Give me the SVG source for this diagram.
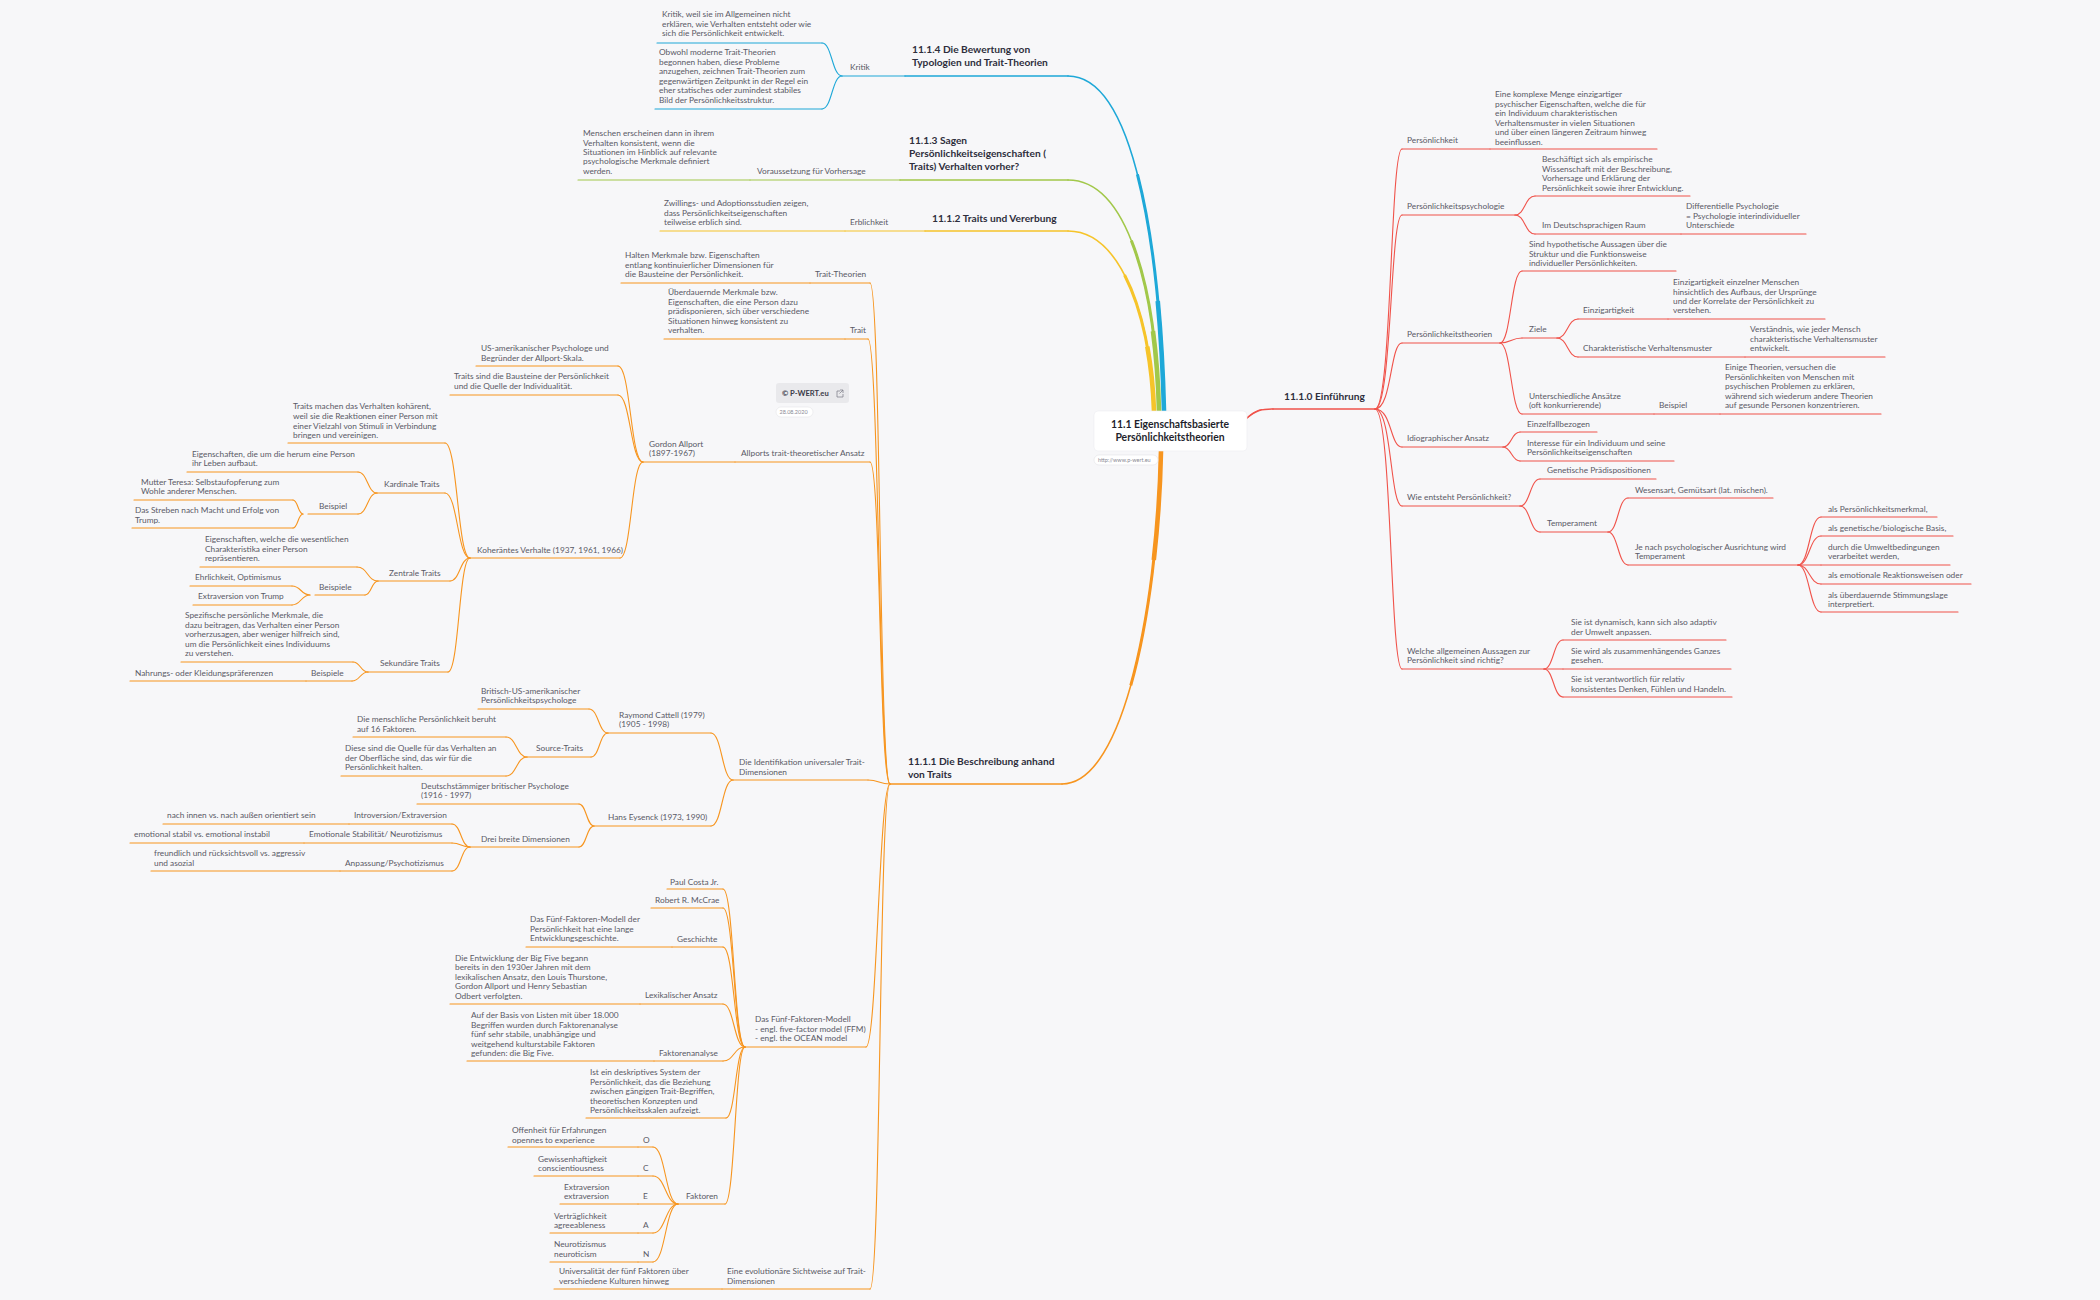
<svg xmlns="http://www.w3.org/2000/svg" width="2100" height="1300" viewBox="0 0 2100 1300">
<style>
.t{font-family:Lato,"Open Sans",sans-serif;font-size:8.3px;fill:#5a5a66}
.h{font-family:Lato,"Open Sans",sans-serif;font-size:10.2px;font-weight:700;fill:#2e2e3c}
.rt{font-family:Lato,"Open Sans",sans-serif;font-size:10.4px;font-weight:700;fill:#1f1f2c}
.s{font-family:Lato,"Open Sans",sans-serif;font-size:5.5px;fill:#8a8a95}
.r,.o,.b,.g,.y{fill:none;stroke-width:1.1;stroke-linecap:round}
.r{stroke:#f0534b}.o{stroke:#f7951f}.b{stroke:#1ea8d8}.g{stroke:#a2c84a}.y{stroke:#f6c42a}
.m1{stroke-width:1.6}
.m2{stroke-width:3;stroke-linecap:butt;stroke-dasharray:0 35 65 0}
.m3{stroke-width:4.6;stroke-linecap:butt;stroke-dasharray:0 70 30 0}
</style>
<rect width="2100" height="1300" fill="#f7f7f9"/>

<g id="connectors">
  <path class="b m1" d="M1068 76C1135 76 1160 250 1164 411"/>
  <path class="b m2" pathLength="100" d="M1068 76C1135 76 1160 250 1164 411"/>
  <path class="b m3" pathLength="100" d="M1068 76C1135 76 1160 250 1164 411"/>
  <path class="g m1" d="M1068 180C1128 180 1156 290 1159 411"/>
  <path class="g m2" pathLength="100" d="M1068 180C1128 180 1156 290 1159 411"/>
  <path class="g m3" pathLength="100" d="M1068 180C1128 180 1156 290 1159 411"/>
  <path class="y m1" d="M1068 231C1122 231 1151 320 1154 411"/>
  <path class="y m2" pathLength="100" d="M1068 231C1122 231 1151 320 1154 411"/>
  <path class="y m3" pathLength="100" d="M1068 231C1122 231 1151 320 1154 411"/>
  <path class="o m1" d="M1062 784C1125 784 1158 600 1161 451"/>
  <path class="o m2" pathLength="100" d="M1062 784C1125 784 1158 600 1161 451"/>
  <path class="o m3" pathLength="100" d="M1062 784C1125 784 1158 600 1161 451"/>
  <path class="r m1" d="M1247 418C1256 410 1262 409 1273 409"/>
  <path class="r" stroke-width="3.4" d="M1247 418C1254 412 1258 410 1262 409.5"/>

  <!-- Einführung -->
  <path class="r" d="M1375 409C1392 409 1390 149 1402 149"/>
  <path class="r" d="M1375 409C1392 409 1390 215 1402 215"/>
  <path class="r" d="M1375 409C1392 409 1390 343 1402 343"/>
  <path class="r" d="M1375 409C1392 409 1390 447 1402 447"/>
  <path class="r" d="M1375 409C1392 409 1390 506 1402 506"/>
  <path class="r" d="M1375 409C1392 409 1390 669 1402 669"/>
  <path class="r" d="M1515 215C1525 215 1525 196 1535 196"/>
  <path class="r" d="M1515 215C1525 215 1525 234 1535 234"/>
  <path class="r" d="M1500 343C1511 343 1511 271 1522 271"/>
  <path class="r" d="M1500 343C1511 343 1511 338 1522 338"/>
  <path class="r" d="M1500 343C1511 343 1511 414 1522 414"/>
  <path class="r" d="M1557 338C1567.5 338 1567.5 319 1578 319"/>
  <path class="r" d="M1557 338C1567.5 338 1567.5 357 1578 357"/>
  <path class="r" d="M1503 447C1511.5 447 1511.5 432 1520 432"/>
  <path class="r" d="M1503 447C1511.5 447 1511.5 461 1520 461"/>
  <path class="r" d="M1520 506C1530 506 1530 479 1540 479"/>
  <path class="r" d="M1520 506C1530 506 1530 532 1540 532"/>
  <path class="r" d="M1608 532C1618 532 1618 498 1628 498"/>
  <path class="r" d="M1608 532C1618 532 1618 565 1628 565"/>
  <path class="r" d="M1798 565C1809.5 565 1809.5 517 1821 517"/>
  <path class="r" d="M1798 565C1809.5 565 1809.5 536 1821 536"/>
  <path class="r" d="M1798 565H1821"/>
  <path class="r" d="M1798 565C1809.5 565 1809.5 584 1821 584"/>
  <path class="r" d="M1798 565C1809.5 565 1809.5 612 1821 612"/>
  <path class="r" d="M1544 669C1553.5 669 1553.5 640 1563 640"/>
  <path class="r" d="M1544 669H1563"/>
  <path class="r" d="M1544 669C1553.5 669 1553.5 697 1563 697"/>

  <!-- 11.1.4 Kritik -->
  <path class="b" d="M842 76C832 76 832 43 822 43"/>
  <path class="b" d="M842 76C832 76 832 109 822 109"/>

  <!-- 11.1.1 -->
  <path class="o" d="M890 784C879 784 881 283 870 283"/>
  <path class="o" d="M890 784C879 784 879 339 868 339"/>
  <path class="o" d="M890 784C879 784 881 462 870 462"/>
  <path class="o" d="M890 784C879 784 879 780 868 780"/>
  <path class="o" d="M890 784C879 784 877 1047 866 1047"/>
  <path class="o" d="M890 784C879 784 881 1289 870 1289"/>
  <!-- Gordon -->
  <path class="o" d="M643 462C630.5 462 630.5 366 618 366"/>
  <path class="o" d="M643 462C630.5 462 630.5 395 618 395"/>
  <path class="o" d="M643 462C631.5 462 631.5 558 620 558"/>
  <!-- Koheräntes -->
  <path class="o" d="M470 558C457.5 558 457.5 443 445 443"/>
  <path class="o" d="M470 558C457.5 558 457.5 493 445 493"/>
  <path class="o" d="M470 558C460 558 460 581 450 581"/>
  <path class="o" d="M470 558C459 558 459 672 448 672"/>
  <path class="o" d="M377 493C367.5 493 367.5 472 358 472"/>
  <path class="o" d="M377 493C367.5 493 367.5 514 358 514"/>
  <path class="o" d="M303 514C298 514 298 500 293 500"/>
  <path class="o" d="M303 514C298 514 298 528 293 528"/>
  <path class="o" d="M378 581C367.5 581 367.5 567 357 567"/>
  <path class="o" d="M378 581C371.5 581 371.5 595 365 595"/>
  <path class="o" d="M310 595C301 595 301 586 292 586"/>
  <path class="o" d="M310 595C301 595 301 605 292 605"/>
  <path class="o" d="M368 672C360.5 672 360.5 662 353 662"/>
  <path class="o" d="M368 672C360 672 360 681 352 681"/>
  <!-- Identifikation -->
  <path class="o" d="M733 780C722 780 722 733 711 733"/>
  <path class="o" d="M733 780C722 780 722 826 711 826"/>
  <path class="o" d="M608 733C598.5 733 598.5 709 589 709"/>
  <path class="o" d="M608 733C599.5 733 599.5 757 591 757"/>
  <path class="o" d="M527 757C516.5 757 516.5 737 506 737"/>
  <path class="o" d="M527 757C516.5 757 516.5 776 506 776"/>
  <path class="o" d="M594 826C586.5 826 586.5 804 579 804"/>
  <path class="o" d="M594 826C586.5 826 586.5 847 579 847"/>
  <path class="o" d="M470 847C461 847 461 824 452 824"/>
  <path class="o" d="M470 847C461 847 461 843 452 843"/>
  <path class="o" d="M470 847C461 847 461 871 452 871"/>
  <!-- Five factor -->
  <path class="o" d="M745 1047C734 1047 734 889 723 889"/>
  <path class="o" d="M745 1047C734 1047 734 908 723 908"/>
  <path class="o" d="M745 1047C734 1047 734 947 723 947"/>
  <path class="o" d="M745 1047C734 1047 734 1004 723 1004"/>
  <path class="o" d="M745 1047C734 1047 734 1061 723 1061"/>
  <path class="o" d="M745 1047C735.5 1047 735.5 1118 726 1118"/>
  <path class="o" d="M745 1047C735 1047 735 1204 725 1204"/>
  <path class="o" d="M678 1204C665.5 1204 665.5 1147 653 1147"/>
  <path class="o" d="M678 1204C665.5 1204 665.5 1176 653 1176"/>
  <path class="o" d="M678 1204C665.5 1204 665.5 1233 653 1233"/>
  <path class="o" d="M678 1204C665.5 1204 665.5 1262 653 1262"/>
</g>

<g id="root">
  <rect x="1094" y="411" width="153" height="40" rx="4" fill="#ffffff" stroke="#ececf0" stroke-width="0.6"/>
  <text class="rt" text-anchor="middle"><tspan x="1170" y="428">11.1 Eigenschaftsbasierte</tspan><tspan x="1170" y="441">Persönlichkeitstheorien</tspan></text>
</g>
<g id="url">
  <rect x="1094" y="455" width="64" height="10" rx="5" fill="#ffffff" stroke="#e2e2e6" stroke-width="0.6"/>
  <text class="s" x="1098" y="462">http://www.p-wert.eu</text>
</g>
<g id="badge">
  <rect x="776" y="383" width="73" height="20" rx="3" fill="#e9e9ec"/>
  <text x="782" y="396" style="font-family:Lato,'Open Sans',sans-serif;font-size:7.6px;font-weight:700;fill:#3a3a48">© P-WERT.eu</text>
  <path d="M840 391h-3v6h6v-3M840 390h3v3M843 390l-3.5 3.5" fill="none" stroke="#7a7a85" stroke-width="0.7"/>
  <rect x="776" y="407" width="37" height="10" rx="5" fill="#ffffff" stroke="#e4e4e8" stroke-width="0.6"/>
  <text class="s" x="779.5" y="414">28.08.2020</text>
</g>

<!-- RIGHT: Einführung -->
<g id="n-einfuehrung"><text class="h" x="1284" y="400">11.1.0 Einführung</text><path class="r m1" d="M1273 409H1375"/></g>
<g id="n-persoenlichkeit"><text class="t" x="1407" y="143">Persönlichkeit</text><path class="r" d="M1402 149H1490"/></g>
<g id="n-persoenlichkeit-def"><text class="t"><tspan x="1495" y="97">Eine komplexe Menge einzigartiger</tspan><tspan x="1495" y="106.5">psychischer Eigenschaften, welche die für</tspan><tspan x="1495" y="116">ein Individuum charakteristischen</tspan><tspan x="1495" y="125.5">Verhaltensmuster in vielen Situationen</tspan><tspan x="1495" y="135">und über einen längeren Zeitraum hinweg</tspan><tspan x="1495" y="144.5">beeinflussen.</tspan></text><path class="r" d="M1490 149H1657"/></g>
<g id="n-psychologie"><text class="t" x="1407" y="209">Persönlichkeitspsychologie</text><path class="r" d="M1402 215H1515"/></g>
<g id="n-psychologie-def"><text class="t"><tspan x="1542" y="162">Beschäftigt sich als empirische</tspan><tspan x="1542" y="171.5">Wissenschaft mit der Beschreibung,</tspan><tspan x="1542" y="181">Vorhersage und Erklärung der</tspan><tspan x="1542" y="190.5">Persönlichkeit sowie ihrer Entwicklung.</tspan></text><path class="r" d="M1535 196H1690"/></g>
<g id="n-deutsch"><text class="t" x="1542" y="228">Im Deutschsprachigen Raum</text><path class="r" d="M1535 234H1681"/></g>
<g id="n-differentielle"><text class="t"><tspan x="1686" y="209">Differentielle Psychologie</tspan><tspan x="1686" y="218.5">= Psychologie interindividueller</tspan><tspan x="1686" y="228">Unterschiede</tspan></text><path class="r" d="M1681 234H1806"/></g>
<g id="n-theorien"><text class="t" x="1407" y="337">Persönlichkeitstheorien</text><path class="r" d="M1402 343H1500"/></g>
<g id="n-theorien-def"><text class="t"><tspan x="1529" y="247">Sind hypothetische Aussagen über die</tspan><tspan x="1529" y="256.5">Struktur und die Funktionsweise</tspan><tspan x="1529" y="266">individueller Persönlichkeiten.</tspan></text><path class="r" d="M1522 271H1676"/></g>
<g id="n-ziele"><text class="t" x="1529" y="332">Ziele</text><path class="r" d="M1522 338H1557"/></g>
<g id="n-einzigartigkeit"><text class="t" x="1583" y="313">Einzigartigkeit</text><path class="r" d="M1578 319H1668"/></g>
<g id="n-einzigartigkeit-def"><text class="t"><tspan x="1673" y="285">Einzigartigkeit einzelner Menschen</tspan><tspan x="1673" y="294.5">hinsichtlich des Aufbaus, der Ursprünge</tspan><tspan x="1673" y="304">und der Korrelate der Persönlichkeit zu</tspan><tspan x="1673" y="313">verstehen.</tspan></text><path class="r" d="M1668 319H1825"/></g>
<g id="n-charakteristische"><text class="t" x="1583" y="351">Charakteristische Verhaltensmuster</text><path class="r" d="M1578 357H1745"/></g>
<g id="n-charakteristische-def"><text class="t"><tspan x="1750" y="332">Verständnis, wie jeder Mensch</tspan><tspan x="1750" y="341.5">charakteristische Verhaltensmuster</tspan><tspan x="1750" y="351">entwickelt.</tspan></text><path class="r" d="M1745 357H1885"/></g>
<g id="n-ansaetze"><text class="t"><tspan x="1529" y="399">Unterschiedliche Ansätze</tspan><tspan x="1529" y="408">(oft konkurrierende)</tspan></text><path class="r" d="M1522 414H1654"/></g>
<g id="n-ansaetze-beispiel"><text class="t" x="1659" y="408">Beispiel</text><path class="r" d="M1654 414H1720"/></g>
<g id="n-ansaetze-def"><text class="t"><tspan x="1725" y="370">Einige Theorien, versuchen die</tspan><tspan x="1725" y="379.5">Persönlichkeiten von Menschen mit</tspan><tspan x="1725" y="389">psychischen Problemen zu erklären,</tspan><tspan x="1725" y="398.5">während sich wiederum andere Theorien</tspan><tspan x="1725" y="408">auf gesunde Personen konzentrieren.</tspan></text><path class="r" d="M1720 414H1881"/></g>
<g id="n-idiographisch"><text class="t" x="1407" y="441">Idiographischer Ansatz</text><path class="r" d="M1402 447H1503"/></g>
<g id="n-einzelfall"><text class="t" x="1527" y="427">Einzelfallbezogen</text><path class="r" d="M1520 432H1597"/></g>
<g id="n-interesse"><text class="t"><tspan x="1527" y="446">Interesse für ein Individuum und seine</tspan><tspan x="1527" y="455">Persönlichkeitseigenschaften</tspan></text><path class="r" d="M1520 461H1674"/></g>
<g id="n-entsteht"><text class="t" x="1407" y="500">Wie entsteht Persönlichkeit?</text><path class="r" d="M1402 506H1520"/></g>
<g id="n-genetisch"><text class="t" x="1547" y="473">Genetische Prädispositionen</text><path class="r" d="M1540 479H1656"/></g>
<g id="n-temperament"><text class="t" x="1547" y="526">Temperament</text><path class="r" d="M1540 532H1608"/></g>
<g id="n-wesensart"><text class="t" x="1635" y="493">Wesensart, Gemütsart (lat. mischen).</text><path class="r" d="M1628 498H1773"/></g>
<g id="n-jenach"><text class="t"><tspan x="1635" y="550">Je nach psychologischer Ausrichtung wird</tspan><tspan x="1635" y="559">Temperament</tspan></text><path class="r" d="M1628 565H1798"/></g>
<g id="n-t1"><text class="t" x="1828" y="512">als Persönlichkeitsmerkmal,</text><path class="r" d="M1821 517H1937"/></g>
<g id="n-t2"><text class="t" x="1828" y="531">als genetische/biologische Basis,</text><path class="r" d="M1821 536H1953"/></g>
<g id="n-t3"><text class="t"><tspan x="1828" y="550">durch die Umweltbedingungen</tspan><tspan x="1828" y="559">verarbeitet werden,</tspan></text><path class="r" d="M1821 565H1950"/></g>
<g id="n-t4"><text class="t" x="1828" y="578">als emotionale Reaktionsweisen oder</text><path class="r" d="M1821 584H1971"/></g>
<g id="n-t5"><text class="t"><tspan x="1828" y="598">als überdauernde Stimmungslage</tspan><tspan x="1828" y="607">interpretiert.</tspan></text><path class="r" d="M1821 612H1958"/></g>
<g id="n-aussagen"><text class="t"><tspan x="1407" y="654">Welche allgemeinen Aussagen zur</tspan><tspan x="1407" y="663">Persönlichkeit sind richtig?</tspan></text><path class="r" d="M1402 669H1544"/></g>
<g id="n-a1"><text class="t"><tspan x="1571" y="625">Sie ist dynamisch, kann sich also adaptiv</tspan><tspan x="1571" y="635">der Umwelt anpassen.</tspan></text><path class="r" d="M1563 640H1726"/></g>
<g id="n-a2"><text class="t"><tspan x="1571" y="654">Sie wird als zusammenhängendes Ganzes</tspan><tspan x="1571" y="663">gesehen.</tspan></text><path class="r" d="M1563 669H1731"/></g>
<g id="n-a3"><text class="t"><tspan x="1571" y="682">Sie ist verantwortlich für relativ</tspan><tspan x="1571" y="692">konsistentes Denken, Fühlen und Handeln.</tspan></text><path class="r" d="M1563 697H1732"/></g>

<!-- LEFT: 11.1.4 -->
<g id="n-1114"><text class="h"><tspan x="912" y="53">11.1.4 Die Bewertung von</tspan><tspan x="912" y="66">Typologien und Trait-Theorien</tspan></text><path class="b m1" d="M905 76H1068"/></g>
<g id="n-kritik"><text class="t" x="850" y="70">Kritik</text><path class="b" d="M842 76H905"/></g>
<g id="n-kritik1"><text class="t"><tspan x="662" y="17">Kritik, weil sie im Allgemeinen nicht</tspan><tspan x="662" y="26.5">erklären, wie Verhalten entsteht oder wie</tspan><tspan x="662" y="36">sich die Persönlichkeit entwickelt.</tspan></text><path class="b" d="M657 43H822"/></g>
<g id="n-kritik2"><text class="t"><tspan x="659" y="55">Obwohl moderne Trait-Theorien</tspan><tspan x="659" y="64.7">begonnen haben, diese Probleme</tspan><tspan x="659" y="74">anzugehen, zeichnen Trait-Theorien zum</tspan><tspan x="659" y="83.7">gegenwärtigen Zeitpunkt in der Regel ein</tspan><tspan x="659" y="93.3">eher statisches oder zumindest stabiles</tspan><tspan x="659" y="102.7">Bild der Persönlichkeitsstruktur.</tspan></text><path class="b" d="M655 109H822"/></g>

<!-- 11.1.3 -->
<g id="n-1113"><text class="h"><tspan x="909" y="144">11.1.3 Sagen</tspan><tspan x="909" y="157">Persönlichkeitseigenschaften (</tspan><tspan x="909" y="170">Traits) Verhalten vorher?</tspan></text><path class="g m1" d="M900 180H1068"/></g>
<g id="n-voraussetzung"><text class="t" x="757" y="174">Voraussetzung für Vorhersage</text><path class="g" d="M750 180H900"/></g>
<g id="n-voraussetzung-def"><text class="t"><tspan x="583" y="136">Menschen erscheinen dann in ihrem</tspan><tspan x="583" y="145.7">Verhalten konsistent, wenn die</tspan><tspan x="583" y="155">Situationen im Hinblick auf relevante</tspan><tspan x="583" y="164.3">psychologische Merkmale definiert</tspan><tspan x="583" y="174">werden.</tspan></text><path class="g" d="M578 180H750"/></g>

<!-- 11.1.2 -->
<g id="n-1112"><text class="h" x="932" y="222">11.1.2 Traits und Vererbung</text><path class="y m1" d="M925 231H1068"/></g>
<g id="n-erblichkeit"><text class="t" x="850" y="225">Erblichkeit</text><path class="y" d="M845 231H925"/></g>
<g id="n-erblichkeit-def"><text class="t"><tspan x="664" y="206">Zwillings- und Adoptionsstudien zeigen,</tspan><tspan x="664" y="215.7">dass Persönlichkeitseigenschaften</tspan><tspan x="664" y="225">teilweise erblich sind.</tspan></text><path class="y" d="M660 231H845"/></g>

<!-- 11.1.1 -->
<g id="n-1111"><text class="h"><tspan x="908" y="765">11.1.1 Die Beschreibung anhand</tspan><tspan x="908" y="778">von Traits</tspan></text><path class="o m1" d="M890 784H1062"/></g>
<g id="n-traittheorien"><text class="t" x="815" y="277">Trait-Theorien</text><path class="o" d="M810 283H870"/></g>
<g id="n-traittheorien-def"><text class="t"><tspan x="625" y="258">Halten Merkmale bzw. Eigenschaften</tspan><tspan x="625" y="267.5">entlang kontinuierlicher Dimensionen für</tspan><tspan x="625" y="277">die Bausteine der Persönlichkeit.</tspan></text><path class="o" d="M621 283H810"/></g>
<g id="n-trait"><text class="t" x="850" y="333">Trait</text><path class="o" d="M845 339H868"/></g>
<g id="n-trait-def"><text class="t"><tspan x="668" y="295">Überdauernde Merkmale bzw.</tspan><tspan x="668" y="304.5">Eigenschaften, die eine Person dazu</tspan><tspan x="668" y="314">prädisponieren, sich über verschiedene</tspan><tspan x="668" y="323.5">Situationen hinweg konsistent zu</tspan><tspan x="668" y="333">verhalten.</tspan></text><path class="o" d="M664 339H845"/></g>
<g id="n-allports"><text class="t" x="741" y="456">Allports trait-theoretischer Ansatz</text><path class="o" d="M735 462H870"/></g>
<g id="n-gordon"><text class="t"><tspan x="649" y="447">Gordon Allport</tspan><tspan x="649" y="456">(1897-1967)</tspan></text><path class="o" d="M643 462H735"/></g>
<g id="n-gordon1"><text class="t"><tspan x="481" y="351">US-amerikanischer Psychologe und</tspan><tspan x="481" y="361">Begründer der Allport-Skala.</tspan></text><path class="o" d="M476 366H618"/></g>
<g id="n-gordon2"><text class="t"><tspan x="454" y="379">Traits sind die Bausteine der Persönlichkeit</tspan><tspan x="454" y="389">und die Quelle der Individualität.</tspan></text><path class="o" d="M450 395H618"/></g>
<g id="n-koheraent"><text class="t" x="477" y="553">Koheräntes Verhalte (1937, 1961, 1966)</text><path class="o" d="M470 558H620"/></g>
<g id="n-kohaerent-def"><text class="t"><tspan x="293" y="409">Traits machen das Verhalten kohärent,</tspan><tspan x="293" y="419">weil sie die Reaktionen einer Person mit</tspan><tspan x="293" y="428.7">einer Vielzahl von Stimuli in Verbindung</tspan><tspan x="293" y="438">bringen und vereinigen.</tspan></text><path class="o" d="M288 443H445"/></g>
<g id="n-kardinal"><text class="t" x="384" y="487">Kardinale Traits</text><path class="o" d="M377 493H445"/></g>
<g id="n-kardinal-def"><text class="t"><tspan x="192" y="457">Eigenschaften, die um die herum eine Person</tspan><tspan x="192" y="466">ihr Leben aufbaut.</tspan></text><path class="o" d="M187 472H358"/></g>
<g id="n-kardinal-bsp"><text class="t" x="319" y="509">Beispiel</text><path class="o" d="M308 514H358"/></g>
<g id="n-teresa"><text class="t"><tspan x="141" y="485">Mutter Teresa: Selbstaufopferung zum</tspan><tspan x="141" y="494">Wohle anderer Menschen.</tspan></text><path class="o" d="M134 500H293"/></g>
<g id="n-trump1"><text class="t"><tspan x="135" y="513">Das Streben nach Macht und Erfolg von</tspan><tspan x="135" y="523">Trump.</tspan></text><path class="o" d="M132 528H293"/></g>
<g id="n-zentral"><text class="t" x="389" y="576">Zentrale Traits</text><path class="o" d="M378 581H450"/></g>
<g id="n-zentral-def"><text class="t"><tspan x="205" y="542">Eigenschaften, welche die wesentlichen</tspan><tspan x="205" y="552">Charakteristika einer Person</tspan><tspan x="205" y="561">repräsentieren.</tspan></text><path class="o" d="M200 567H357"/></g>
<g id="n-zentral-bsp"><text class="t" x="319" y="590">Beispiele</text><path class="o" d="M315 595H365"/></g>
<g id="n-ehrlich"><text class="t" x="195" y="580">Ehrlichkeit, Optimismus</text><path class="o" d="M190 586H292"/></g>
<g id="n-trump2"><text class="t" x="198" y="599">Extraversion von Trump</text><path class="o" d="M193 605H292"/></g>
<g id="n-sekundaer"><text class="t" x="380" y="666">Sekundäre Traits</text><path class="o" d="M368 672H448"/></g>
<g id="n-sekundaer-def"><text class="t"><tspan x="185" y="618">Spezifische persönliche Merkmale, die</tspan><tspan x="185" y="627.7">dazu beitragen, das Verhalten einer Person</tspan><tspan x="185" y="637.3">vorherzusagen, aber weniger hilfreich sind,</tspan><tspan x="185" y="646.7">um die Persönlichkeit eines Individuums</tspan><tspan x="185" y="656">zu verstehen.</tspan></text><path class="o" d="M181 662H353"/></g>
<g id="n-sekundaer-bsp"><text class="t" x="311" y="676">Beispiele</text><path class="o" d="M306 681H352"/></g>
<g id="n-nahrung"><text class="t" x="135" y="676">Nahrungs- oder Kleidungspräferenzen</text><path class="o" d="M130 681H306"/></g>

<g id="n-identifikation"><text class="t"><tspan x="739" y="765">Die Identifikation universaler Trait-</tspan><tspan x="739" y="775">Dimensionen</tspan></text><path class="o" d="M733 780H868"/></g>
<g id="n-cattell"><text class="t"><tspan x="619" y="718">Raymond Cattell (1979)</tspan><tspan x="619" y="727">(1905 - 1998)</tspan></text><path class="o" d="M608 733H711"/></g>
<g id="n-cattell1"><text class="t"><tspan x="481" y="694">Britisch-US-amerikanischer</tspan><tspan x="481" y="703">Persönlichkeitspsychologe</tspan></text><path class="o" d="M478 709H589"/></g>
<g id="n-source"><text class="t" x="536" y="751">Source-Traits</text><path class="o" d="M527 757H591"/></g>
<g id="n-source1"><text class="t"><tspan x="357" y="722">Die menschliche Persönlichkeit beruht</tspan><tspan x="357" y="732">auf 16 Faktoren.</tspan></text><path class="o" d="M353 737H506"/></g>
<g id="n-source2"><text class="t"><tspan x="345" y="751">Diese sind die Quelle für das Verhalten an</tspan><tspan x="345" y="760.7">der Oberfläche sind, das wir für die</tspan><tspan x="345" y="770">Persönlichkeit halten.</tspan></text><path class="o" d="M341 776H506"/></g>
<g id="n-eysenck"><text class="t" x="608" y="820">Hans Eysenck (1973, 1990)</text><path class="o" d="M594 826H711"/></g>
<g id="n-eysenck1"><text class="t"><tspan x="421" y="789">Deutschstämmiger britischer Psychologe</tspan><tspan x="421" y="798">(1916 - 1997)</tspan></text><path class="o" d="M417 804H579"/></g>
<g id="n-drei"><text class="t" x="481" y="842">Drei breite Dimensionen</text><path class="o" d="M470 847H579"/></g>
<g id="n-intro"><text class="t" x="354" y="818">Introversion/Extraversion</text><path class="o" d="M349 824H452"/></g>
<g id="n-intro-def"><text class="t" x="167" y="818">nach innen vs. nach außen orientiert sein</text><path class="o" d="M163 824H349"/></g>
<g id="n-emo"><text class="t" x="309" y="837">Emotionale Stabilität/ Neurotizismus</text><path class="o" d="M304 843H452"/></g>
<g id="n-emo-def"><text class="t" x="134" y="837">emotional stabil vs. emotional instabil</text><path class="o" d="M130 843H304"/></g>
<g id="n-anpassung"><text class="t" x="345" y="866">Anpassung/Psychotizismus</text><path class="o" d="M340 871H452"/></g>
<g id="n-anpassung-def"><text class="t"><tspan x="154" y="856">freundlich und rücksichtsvoll vs. aggressiv</tspan><tspan x="154" y="866">und asozial</tspan></text><path class="o" d="M151 871H340"/></g>

<g id="n-ffm"><text class="t"><tspan x="755" y="1022">Das Fünf-Faktoren-Modell</tspan><tspan x="755" y="1032">- engl. five-factor model (FFM)</tspan><tspan x="755" y="1041">- engl. the OCEAN model</tspan></text><path class="o" d="M745 1047H866"/></g>
<g id="n-costa"><text class="t" x="670" y="885">Paul Costa Jr.</text><path class="o" d="M667 889H723"/></g>
<g id="n-mccrae"><text class="t" x="655" y="903">Robert R. McCrae</text><path class="o" d="M651 908H723"/></g>
<g id="n-geschichte"><text class="t" x="677" y="942">Geschichte</text><path class="o" d="M672 947H723"/></g>
<g id="n-geschichte-def"><text class="t"><tspan x="530" y="922">Das Fünf-Faktoren-Modell der</tspan><tspan x="530" y="932">Persönlichkeit hat eine lange</tspan><tspan x="530" y="941">Entwicklungsgeschichte.</tspan></text><path class="o" d="M526 947H672"/></g>
<g id="n-lexikal"><text class="t" x="645" y="998">Lexikalischer Ansatz</text><path class="o" d="M640 1004H723"/></g>
<g id="n-lexikal-def"><text class="t"><tspan x="455" y="961">Die Entwicklung der Big Five begann</tspan><tspan x="455" y="970">bereits in den 1930er Jahren mit dem</tspan><tspan x="455" y="980">lexikalischen Ansatz, den Louis Thurstone,</tspan><tspan x="455" y="989">Gordon Allport und Henry Sebastian</tspan><tspan x="455" y="999">Odbert verfolgten.</tspan></text><path class="o" d="M450 1004H640"/></g>
<g id="n-faktorenanalyse"><text class="t" x="659" y="1056">Faktorenanalyse</text><path class="o" d="M654 1061H723"/></g>
<g id="n-faktorenanalyse-def"><text class="t"><tspan x="471" y="1018">Auf der Basis von Listen mit über 18.000</tspan><tspan x="471" y="1027.7">Begriffen wurden durch Faktorenanalyse</tspan><tspan x="471" y="1037.3">fünf sehr stabile, unabhängige und</tspan><tspan x="471" y="1047">weitgehend kulturstabile Faktoren</tspan><tspan x="471" y="1056">gefunden: die Big Five.</tspan></text><path class="o" d="M467 1061H654"/></g>
<g id="n-deskriptiv"><text class="t"><tspan x="590" y="1075">Ist ein deskriptives System der</tspan><tspan x="590" y="1084.7">Persönlichkeit, das die Beziehung</tspan><tspan x="590" y="1094">zwischen gängigen Trait-Begriffen,</tspan><tspan x="590" y="1103.7">theoretischen Konzepten und</tspan><tspan x="590" y="1113">Persönlichkeitsskalen aufzeigt.</tspan></text><path class="o" d="M586 1118H726"/></g>
<g id="n-faktoren"><text class="t" x="686" y="1199">Faktoren</text><path class="o" d="M678 1204H725"/></g>
<g id="n-o"><text class="t" x="643" y="1143">O</text><path class="o" d="M638 1147H653"/></g>
<g id="n-o-def"><text class="t"><tspan x="512" y="1133">Offenheit für Erfahrungen</tspan><tspan x="512" y="1143">opennes to experience</tspan></text><path class="o" d="M508 1147H638"/></g>
<g id="n-c"><text class="t" x="643" y="1171">C</text><path class="o" d="M638 1176H653"/></g>
<g id="n-c-def"><text class="t"><tspan x="538" y="1162">Gewissenhaftigkeit</tspan><tspan x="538" y="1171">conscientiousness</tspan></text><path class="o" d="M534 1176H638"/></g>
<g id="n-e"><text class="t" x="643" y="1199">E</text><path class="o" d="M638 1204H678"/></g>
<g id="n-e-def"><text class="t"><tspan x="564" y="1190">Extraversion</tspan><tspan x="564" y="1199">extraversion</tspan></text><path class="o" d="M560 1204H638"/></g>
<g id="n-a"><text class="t" x="643" y="1228">A</text><path class="o" d="M638 1233H653"/></g>
<g id="n-a-def"><text class="t"><tspan x="554" y="1219">Verträglichkeit</tspan><tspan x="554" y="1228">agreeableness</tspan></text><path class="o" d="M550 1233H638"/></g>
<g id="n-n"><text class="t" x="643" y="1257">N</text><path class="o" d="M638 1262H653"/></g>
<g id="n-n-def"><text class="t"><tspan x="554" y="1247">Neurotizismus</tspan><tspan x="554" y="1257">neuroticism</tspan></text><path class="o" d="M550 1262H638"/></g>
<g id="n-evolution"><text class="t"><tspan x="727" y="1274">Eine evolutionäre Sichtweise auf Trait-</tspan><tspan x="727" y="1284">Dimensionen</tspan></text><path class="o" d="M722 1289H870"/></g>
<g id="n-evolution-def"><text class="t"><tspan x="559" y="1274">Universalität der fünf Faktoren über</tspan><tspan x="559" y="1284">verschiedene Kulturen hinweg</tspan></text><path class="o" d="M554 1289H722"/></g>
</svg>
